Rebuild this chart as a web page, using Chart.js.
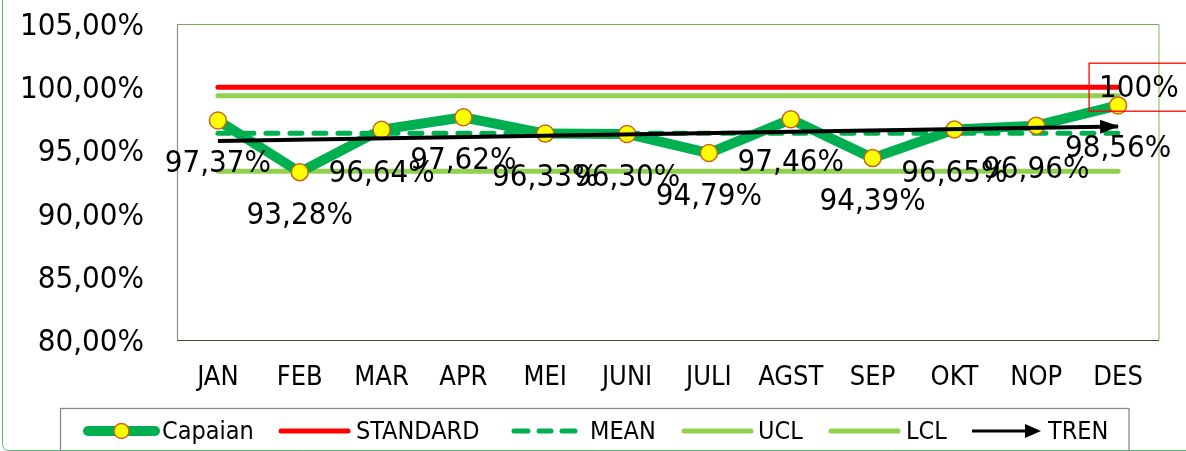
<!DOCTYPE html>
<html>
<head>
<meta charset="utf-8">
<script src="https://cdn.jsdelivr.net/npm/chart.js@4"></script>
<style>
  html, body { margin: 0; padding: 0; background: #ffffff; }
  #wrap { width: 1186px; height: 451px; position: relative; }
</style>
</head>
<body>
<div id="wrap"><canvas id="c" width="1186" height="451"></canvas></div>
<script>
// ---- data ----
const months = ['JAN', 'FEB', 'MAR', 'APR', 'MEI', 'JUNI', 'JULI', 'AGST', 'SEP', 'OKT', 'NOP', 'DES'];
const capaian = [97.37, 93.28, 96.64, 97.62, 96.33, 96.30, 94.79, 97.46, 94.39, 96.65, 96.96, 98.56];
const standard = [100, 100, 100, 100, 100, 100, 100, 100, 100, 100, 100, 100];
const mean = [96.36, 96.36, 96.36, 96.36, 96.36, 96.36, 96.36, 96.36, 96.36, 96.36, 96.36, 96.36];
const ucl = [99.33, 99.33, 99.33, 99.33, 99.33, 99.33, 99.33, 99.33, 99.33, 99.33, 99.33, 99.33];
const lcl = [93.35, 93.35, 93.35, 93.35, 93.35, 93.35, 93.35, 93.35, 93.35, 93.35, 93.35, 93.35];
const tren = [95.75, null, null, null, null, null, null, null, null, null, null, 96.90];
const yTicks = [80, 85, 90, 95, 100, 105];
const standardLabel = '100%';
const seriesNames = ['Capaian', 'STANDARD', 'MEAN', 'UCL', 'LCL', 'TREN'];

const FONT = "'DejaVu Sans Condensed', 'Liberation Sans', sans-serif";
const C_GREEN = '#00b050', C_LIGHT = '#92d050', C_RED = '#ff0000', C_MARK = '#ffff00', C_MARKB = '#c8661e';

function pct(v) { return v.toFixed(2).replace('.', ',') + '%'; }

const framePlugin = {
  id: 'frame',
  beforeDatasetsDraw(chart) {
    const ctx = chart.ctx, a = chart.chartArea;
    ctx.save();
    ctx.lineWidth = 1;
    ctx.strokeStyle = '#70b050';
    ctx.beginPath(); ctx.moveTo(a.left, a.top + 0.5); ctx.lineTo(a.right, a.top + 0.5); ctx.stroke();
    ctx.strokeStyle = '#a9d18e'; ctx.lineWidth = 1.5;
    ctx.beginPath(); ctx.moveTo(a.right, a.top); ctx.lineTo(a.right, a.bottom); ctx.stroke();
    ctx.strokeStyle = '#8c8c8c'; ctx.lineWidth = 1.2;
    ctx.beginPath(); ctx.moveTo(a.left + 0.5, a.top); ctx.lineTo(a.left + 0.5, a.bottom); ctx.stroke();
    ctx.strokeStyle = '#3f4a33'; ctx.lineWidth = 1.2;
    ctx.beginPath(); ctx.moveTo(a.left, a.bottom + 0.5); ctx.lineTo(a.right, a.bottom + 0.5); ctx.stroke();
    ctx.restore();
  },
  afterDatasetsDraw(chart) {
    const ctx = chart.ctx;
    // arrow head on trend line
    const tm = chart.getDatasetMeta(5);
    const pts = tm.data.filter((p, i) => tren[i] !== null);
    if (pts.length >= 2) {
      const p0 = pts[0], p1 = pts[pts.length - 1];
      const ang = Math.atan2(p1.y - p0.y, p1.x - p0.x);
      const L = 18, W = 7;
      ctx.save();
      ctx.fillStyle = '#000';
      ctx.translate(p1.x, p1.y); ctx.rotate(ang);
      ctx.beginPath(); ctx.moveTo(1, 0); ctx.lineTo(-L, -W); ctx.lineTo(-L, W); ctx.closePath(); ctx.fill();
      ctx.restore();
    }
    // data labels for Capaian
    const cm = chart.getDatasetMeta(0);
    ctx.save();
    ctx.font = '31px ' + FONT;
    ctx.fillStyle = '#000';
    ctx.textAlign = 'center';
    ctx.textBaseline = 'middle';
    cm.data.forEach((p, i) => { ctx.fillText(pct(capaian[i]), p.x, p.y + 44); });
    // label for STANDARD at last point
    const sm = chart.getDatasetMeta(1);
    const lp = sm.data[sm.data.length - 1];
    ctx.strokeStyle = C_RED; ctx.lineWidth = 1.3;
    ctx.strokeRect(lp.x - 29, lp.y - 24, 104, 48);
    ctx.textAlign = 'left';
    ctx.fillText(standardLabel, lp.x - 19, lp.y + 2);
    ctx.restore();
  },
  afterDraw(chart) {
    const ctx = chart.ctx;
    ctx.save();
    // outer chart border
    ctx.strokeStyle = '#58bb72'; ctx.lineWidth = 1;
    ctx.beginPath();
    const r = 7, x0 = 2.5, y1 = 450.5;
    ctx.moveTo(x0, -5); ctx.lineTo(x0, y1 - r); ctx.quadraticCurveTo(x0, y1, x0 + r, y1); ctx.lineTo(1300, y1);
    ctx.stroke();
    // legend box
    ctx.strokeStyle = '#8a8a8a'; ctx.lineWidth = 1.3;
    ctx.strokeRect(60.5, 408.5, 1068.5, 60);
    const yc = 431;
    ctx.lineCap = 'round';
    // Capaian
    ctx.strokeStyle = C_GREEN; ctx.lineWidth = 10;
    ctx.beginPath(); ctx.moveTo(88, yc); ctx.lineTo(155, yc); ctx.stroke();
    ctx.fillStyle = C_MARK; ctx.strokeStyle = C_MARKB; ctx.lineWidth = 1.5;
    ctx.beginPath(); ctx.arc(121.5, yc, 7.5, 0, Math.PI * 2); ctx.fill(); ctx.stroke();
    // STANDARD
    ctx.strokeStyle = C_RED; ctx.lineWidth = 5;
    ctx.beginPath(); ctx.moveTo(281, yc); ctx.lineTo(348, yc); ctx.stroke();
    // MEAN
    ctx.strokeStyle = C_GREEN; ctx.lineWidth = 5;
    [[514, 528], [539, 551], [562, 575]].forEach(s => { ctx.beginPath(); ctx.moveTo(s[0], yc); ctx.lineTo(s[1], yc); ctx.stroke(); });
    // UCL / LCL
    ctx.strokeStyle = C_LIGHT; ctx.lineWidth = 5;
    ctx.beginPath(); ctx.moveTo(684, yc); ctx.lineTo(751, yc); ctx.stroke();
    ctx.beginPath(); ctx.moveTo(831, yc); ctx.lineTo(898, yc); ctx.stroke();
    // TREN
    ctx.lineCap = 'butt';
    ctx.strokeStyle = '#000'; ctx.lineWidth = 3;
    ctx.beginPath(); ctx.moveTo(972, yc); ctx.lineTo(1028, yc); ctx.stroke();
    ctx.fillStyle = '#000';
    ctx.beginPath(); ctx.moveTo(1041, yc); ctx.lineTo(1025, yc - 7); ctx.lineTo(1025, yc + 7); ctx.closePath(); ctx.fill();
    // texts
    ctx.font = '25px ' + FONT;
    ctx.fillStyle = '#000'; ctx.textAlign = 'left'; ctx.textBaseline = 'middle';
    const tx = [162, 356, 590, 758, 906, 1048];
    seriesNames.forEach((n, i) => ctx.fillText(n, tx[i], yc + 1));
    ctx.restore();
  }
};

new Chart(document.getElementById('c'), {
  type: 'line',
  data: {
    labels: months,
    datasets: [
      { label: seriesNames[0], data: capaian, borderColor: C_GREEN, borderWidth: 10, pointRadius: 8.5, pointBackgroundColor: C_MARK, pointBorderColor: C_MARKB, pointBorderWidth: 1.5, tension: 0, order: 2, borderJoinStyle: 'round' },
      { label: seriesNames[1], data: standard, borderColor: C_RED, borderWidth: 5, pointRadius: 0, borderCapStyle: 'round', order: 5 },
      { label: seriesNames[2], data: mean, borderColor: C_GREEN, borderWidth: 5, borderDash: [12, 12], borderCapStyle: 'round', pointRadius: 0, order: 3 },
      { label: seriesNames[3], data: ucl, borderColor: C_LIGHT, borderWidth: 5, pointRadius: 0, borderCapStyle: 'round', order: 4 },
      { label: seriesNames[4], data: lcl, borderColor: C_LIGHT, borderWidth: 5, pointRadius: 0, borderCapStyle: 'round', order: 4 },
      { label: seriesNames[5], data: tren, borderColor: '#000000', borderWidth: 4, pointRadius: 0, spanGaps: true, order: 1 }
    ]
  },
  options: {
    responsive: false,
    devicePixelRatio: 1,
    animation: false,
    layout: { padding: { top: 24, right: 27, left: 0, bottom: 0 } },
    plugins: { legend: { display: false }, tooltip: { enabled: false } },
    scales: {
      x: {
        offset: true,
        grid: { display: false, drawTicks: false },
        border: { display: false },
        ticks: { color: '#000', font: { family: FONT, size: 27 }, padding: 22, maxRotation: 0, autoSkip: false },
        afterFit(s) { s.height = 111; s.paddingLeft = 0; s.paddingRight = 0; }
      },
      y: {
        min: 80, max: 105,
        grid: { display: false, drawTicks: false },
        border: { display: false },
        afterBuildTicks(s) { s.ticks = yTicks.map(v => ({ value: v })); },
        ticks: { color: '#000', font: { family: FONT, size: 31 }, padding: 33, labelOffset: 3, callback: v => pct(v) },
        afterFit(s) { s.width = 177; s.paddingTop = 0; s.paddingBottom = 0; }
      }
    }
  },
  plugins: [framePlugin]
});
</script>
</body>
</html>
